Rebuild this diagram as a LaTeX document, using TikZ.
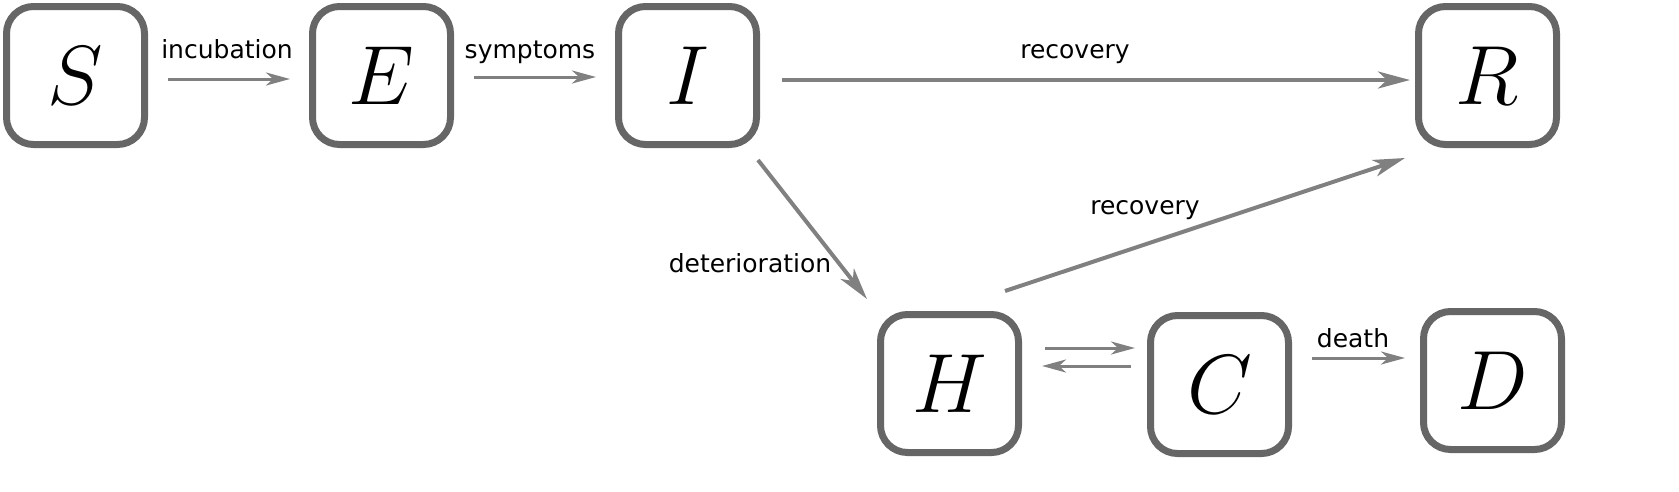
\RequirePackage{fix-cm}
\documentclass[tikz,border=0pt]{standalone}
\usepackage{fontspec}
\setmainfont{DejaVu Sans}
\usetikzlibrary{arrows.meta}
\definecolor{boxc}{HTML}{666666}
\definecolor{arrc}{HTML}{808080}
\tikzset{
  state/.style={draw=boxc, line width=7pt, rounded corners=27pt, fill=white,
    minimum width=138pt, minimum height=138pt, inner sep=0pt,
    font=\fontsize{84}{84}\selectfont},
  arr/.style={draw=arrc, line width=3pt, -{Stealth[length=24pt,width=13pt,inset=7pt]}},
  bigarr/.style={draw=arrc, line width=4pt, -{Stealth[length=32pt,width=17pt,inset=9pt]}},
  lbl/.style={anchor=base, inner sep=0pt, font=\fontsize{25}{25}\selectfont},
}
\begin{document}
\begin{tikzpicture}[x=1pt,y=1pt]
\useasboundingbox (0,0) rectangle (1679,-491);
\node[state] (S) at (75.5,-75.5) {$S$};
\node[state] (E) at (381.5,-75.5) {$E$};
\node[state] (I) at (687.5,-75.5) {$I$};
\node[state] (R) at (1487.5,-75.5) {$R$};
\node[state] (H) at (949.5,-383.5) {$H$};
\node[state] (C) at (1219.5,-384.5) {$C$};
\node[state] (D) at (1492.5,-380.5) {$D$};

\draw[arr] ([shift={(20,-3.5)}]S.east) -- ([shift={(-19,-3.5)}]E.west);
\draw[arr] ([shift={(20,-1.5)}]E.east) -- ([shift={(-19,-1.5)}]I.west);
\draw[bigarr] ([shift={(22,-4.5)}]I.east) -- ([shift={(-5,-4.5)}]R.west);
\draw[bigarr] ([shift={(-2,-12)}]I.south east) -- ([shift={(-10,12)}]H.north west);
\draw[bigarr] ([shift={(-17,20)}]H.north east) -- ([shift={(-10,-10)}]R.south west);
\draw[arr] ([shift={(23,35.5)}]H.east) -- ([shift={(-12,36.5)}]C.west);
\draw[arr] ([shift={(-16,18.5)}]C.west) -- ([shift={(20,17.5)}]H.east);
\draw[arr] ([shift={(20,26.5)}]C.east) -- ([shift={(-15,22.5)}]D.west);

\node[lbl] (lincub) at (227,-58) {incubation};
\node[lbl] (lsymp) at (530,-58) {symptoms};
\node[lbl] (lrec1) at (1075,-58) {recovery};
\node[lbl] (lrec2) at (1145,-214) {recovery};
\node[lbl] (ldet) at (750,-272) {deterioration};
\node[lbl] (ldeath) at (1353,-347) {death};
\end{tikzpicture}
\end{document}
